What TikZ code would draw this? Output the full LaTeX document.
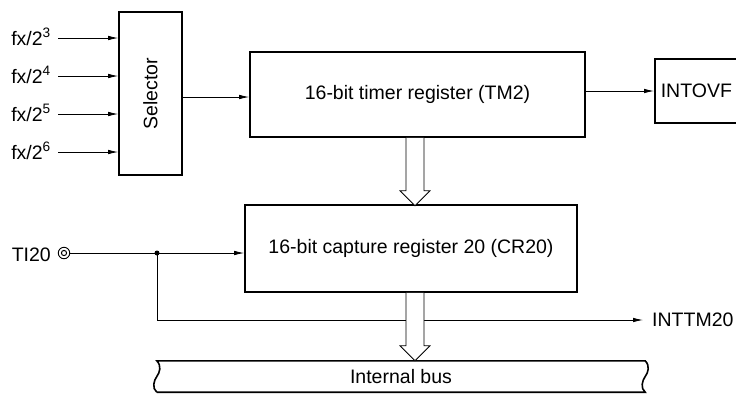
\documentclass[tikz,border=0pt]{standalone}
\usepackage{fontspec}
\setmainfont{Liberation Sans}
\usetikzlibrary{arrows.meta, positioning, calc}

\tikzset{
  blk/.style = {rectangle, draw, line width=1.6pt, inner sep=0pt,
                font=\fontsize{19.5}{23}\selectfont},
  lbl/.style = {inner sep=0pt, font=\fontsize{19.5}{23}\selectfont},
  sig/.style = {-{Latex[length=10pt,width=4.5pt]}, line width=0.8pt},
  wire/.style = {line width=0.8pt},
  busline/.style = {line width=1.6pt},
  pinmark/.style = {circle, draw, line width=0.9pt, minimum size=11.5pt, inner sep=0pt,
                    path picture={\draw[line width=1pt] (path picture bounding box.center) circle (2.6pt);}},
  fatarrow/.pic = {\draw[line width=0.8pt, fill=white]
                   (-9,0) -- (-9,53) -- (-15,53) -- (0,68) -- (15,53) -- (9,53) -- (9,0);}
}

\begin{document}
\begin{tikzpicture}[x=1pt, y=-1pt]
\useasboundingbox (0,0) rectangle (736,394);

% clock selector
\node[blk, minimum width=63, minimum height=163] (sel) at (150.5,93.5) {\rotatebox{90}{Selector}};
\foreach \n/\yy in {3/38, 4/76, 5/114, 6/152} {
  \node[lbl, anchor=base east] (fx\n) at (51,\yy+7) {fx/2\textsuperscript{\n}};
  \coordinate (in\n) at (58,\yy);
  \draw[sig] (in\n) -- (in\n -| sel.west);
}

% timer register and overflow
\node[blk, minimum width=335, minimum height=85] (tm2) at (417.5,94.5) {16-bit timer register (TM2)};
\node[blk, anchor=west, minimum width=100, minimum height=64, text width=88, align=left,
      inner xsep=6pt] (ovf) at (654,91) {INTOVF};
\coordinate (selout) at (sel.east |- 0,97);
\draw[sig] (selout) -- (selout -| tm2.west);
\draw[sig] (tm2.east |- ovf.west) -- (ovf.west);

% capture register
\node[blk, minimum width=332, minimum height=87] (cr20) at (411,248.5) {16-bit capture register 20 (CR20)};
\pic at ($(tm2.south)+(-2.5,0)$) {fatarrow};

% TI20 input
\node[lbl, anchor=base east] (ti) at (51,261) {TI20};
\node[pinmark] (pin) at (64,253) {};
\coordinate (br) at (157,253);
\draw[sig] (pin.east) -- (cr20.west |- pin);
\fill (br) circle (2.5);
\node[lbl, anchor=west] (inttm) at (652,320) {INTTM20};
\draw[sig] (br) -- (br |- inttm) -- ([xshift=-9pt]inttm.west);

% internal bus
\node[lbl, minimum width=488, minimum height=31] (bus) at (401,376.5) {Internal bus};
\draw[busline] (bus.south west) -- (bus.south east)
  .. controls +(-5,-4) and +(-3,4) .. (bus.east)
  .. controls +(3,-4) and +(5,5) .. (bus.north east) -- (bus.north west)
  .. controls +(5,5) and +(3,-4) .. (bus.west)
  .. controls +(-3,4) and +(-5,-4) .. (bus.south west);
\pic at ($(cr20.south)+(4,0)$) {fatarrow};
\end{tikzpicture}
\end{document}
